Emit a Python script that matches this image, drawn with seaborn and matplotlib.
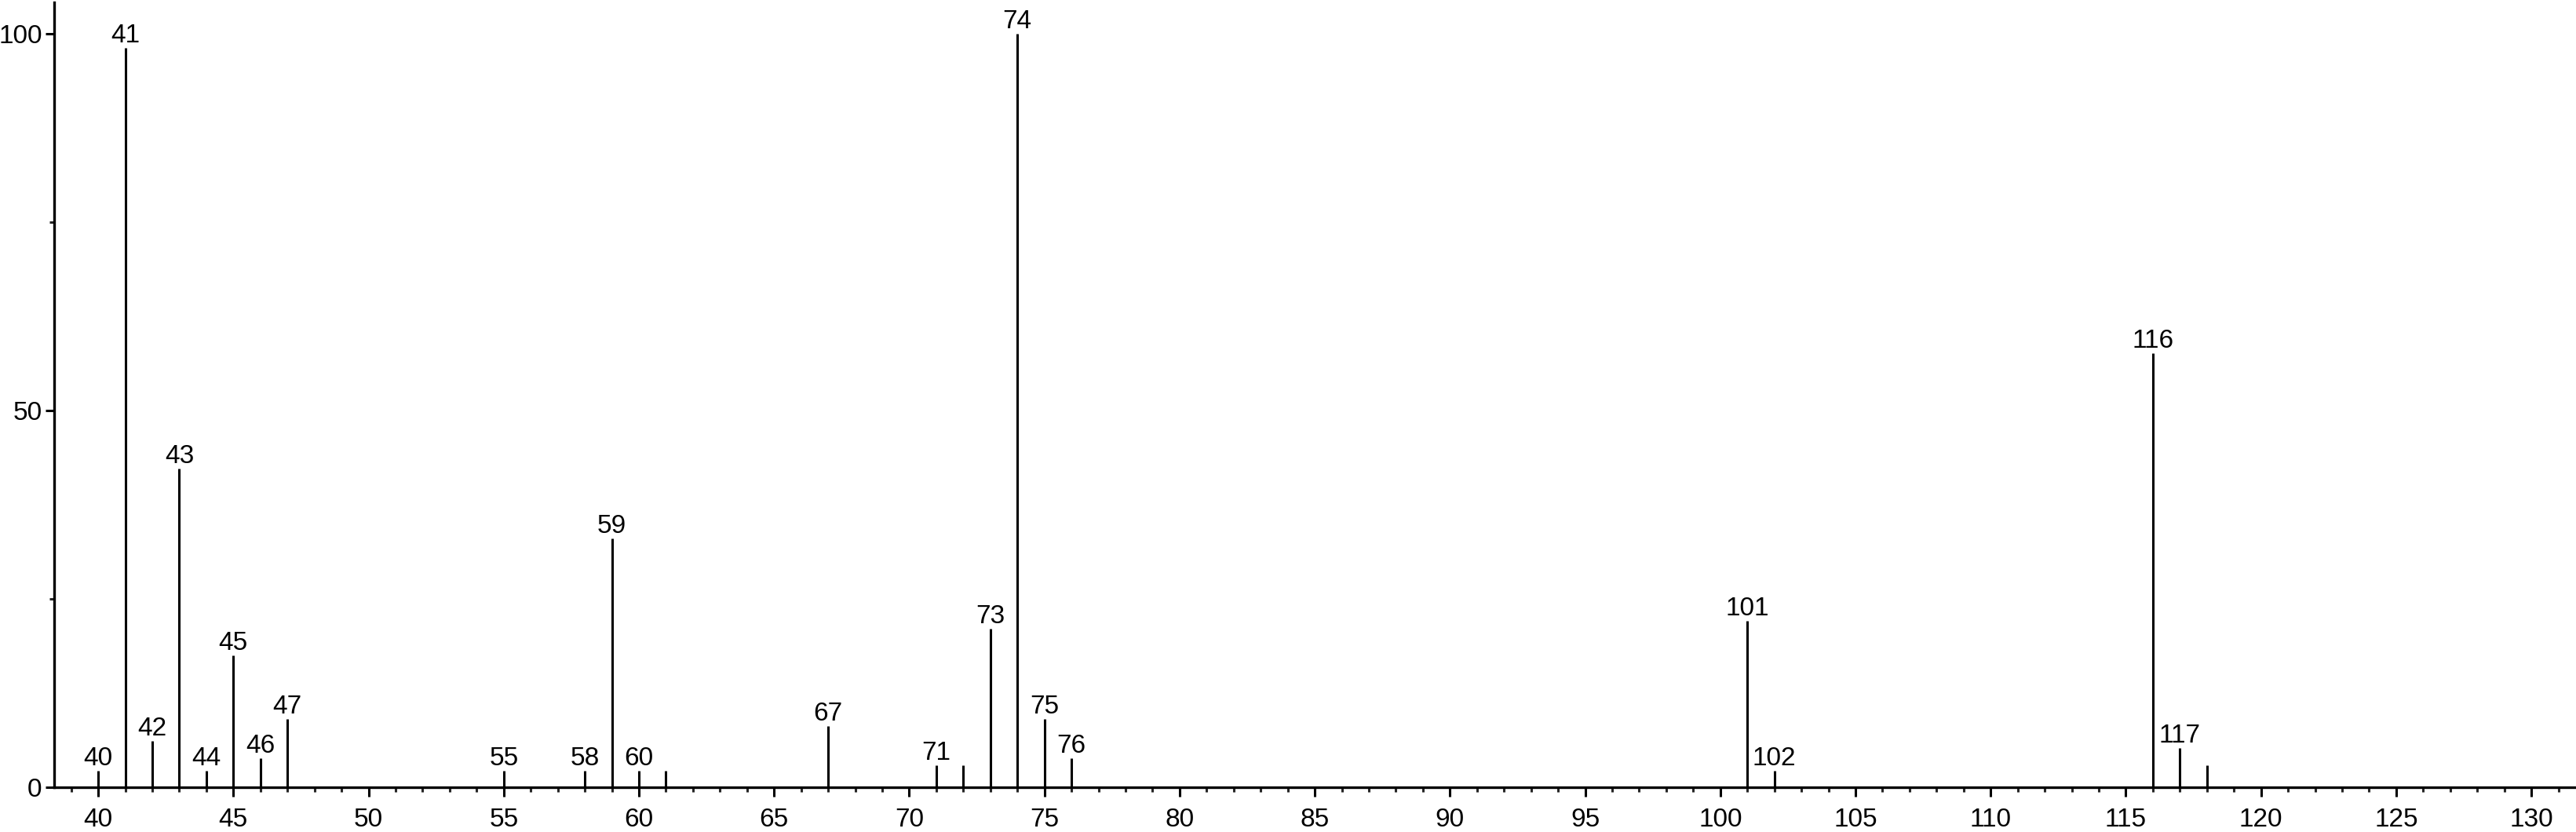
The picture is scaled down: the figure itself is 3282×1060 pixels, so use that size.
import matplotlib
matplotlib.use("Agg")
import matplotlib.pyplot as plt
from matplotlib.ticker import MultipleLocator
import seaborn as sns

# peak data (m/z and relative intensity)
mz = [40, 41, 42, 43, 44, 45, 46, 47, 55, 58, 59, 60, 61, 67, 71, 72, 73, 74, 75, 76,
      101, 102, 116, 117, 118]
intensity = [2.2, 98.2, 6.1, 42.3, 2.2, 17.5, 3.85, 9.06, 2.2, 2.2, 33.0, 2.2, 2.2, 8.1,
             2.9, 2.9, 21.0, 100.0, 9.06, 3.85, 22.1, 2.2, 57.6, 5.2, 2.9]
# peaks that carry a text label
labelled = [40, 41, 42, 43, 44, 45, 46, 47, 55, 58, 59, 60, 67, 71, 73, 74, 75, 76,
            101, 102, 116, 117]

x_ticks = list(range(40, 131, 5))
y_ticks = [0, 50, 100]

sns.set_style("ticks")
plt.rcParams['font.family'] = ['Liberation Sans', 'DejaVu Sans']

W, H = 3282, 1060
fig = plt.figure(figsize=(W / 100, H / 100), dpi=100)
ax = fig.add_axes([69 / W, 1 - 1003 / H, 1 - 69 / W, 1000 / H])

ax.vlines(mz, 0, intensity, color="black", linewidth=2.2)

for m, v in zip(mz, intensity):
    if m in labelled:
        ax.annotate(str(m), (m, v), xytext=(0, 0), textcoords="offset points",
                    ha="center", va="bottom", fontsize=24, color="black")

ax.set_xlim(38.37, 131.65)
ax.set_ylim(0, 104.2)
ax.set_xticks(x_ticks)
ax.set_yticks(y_ticks)
ax.xaxis.set_minor_locator(MultipleLocator(1))
ax.yaxis.set_minor_locator(MultipleLocator(25))

sns.despine(ax=ax)
for side in ["left", "bottom"]:
    ax.spines[side].set_linewidth(2.4)
    ax.spines[side].set_color("black")

ax.tick_params(axis="x", which="major", length=8.6, width=2.2, pad=10, labelsize=24,
               colors="black", direction="out")
ax.tick_params(axis="x", which="minor", length=4.3, width=2.2, direction="out")
ax.tick_params(axis="y", which="major", length=8, width=2.2, pad=3, labelsize=24,
               colors="black", direction="out")
ax.tick_params(axis="y", which="minor", length=4.3, width=2.2, direction="out")

ax.set_xlabel("")
ax.set_ylabel("")

fig.savefig("out.png", dpi=100)
